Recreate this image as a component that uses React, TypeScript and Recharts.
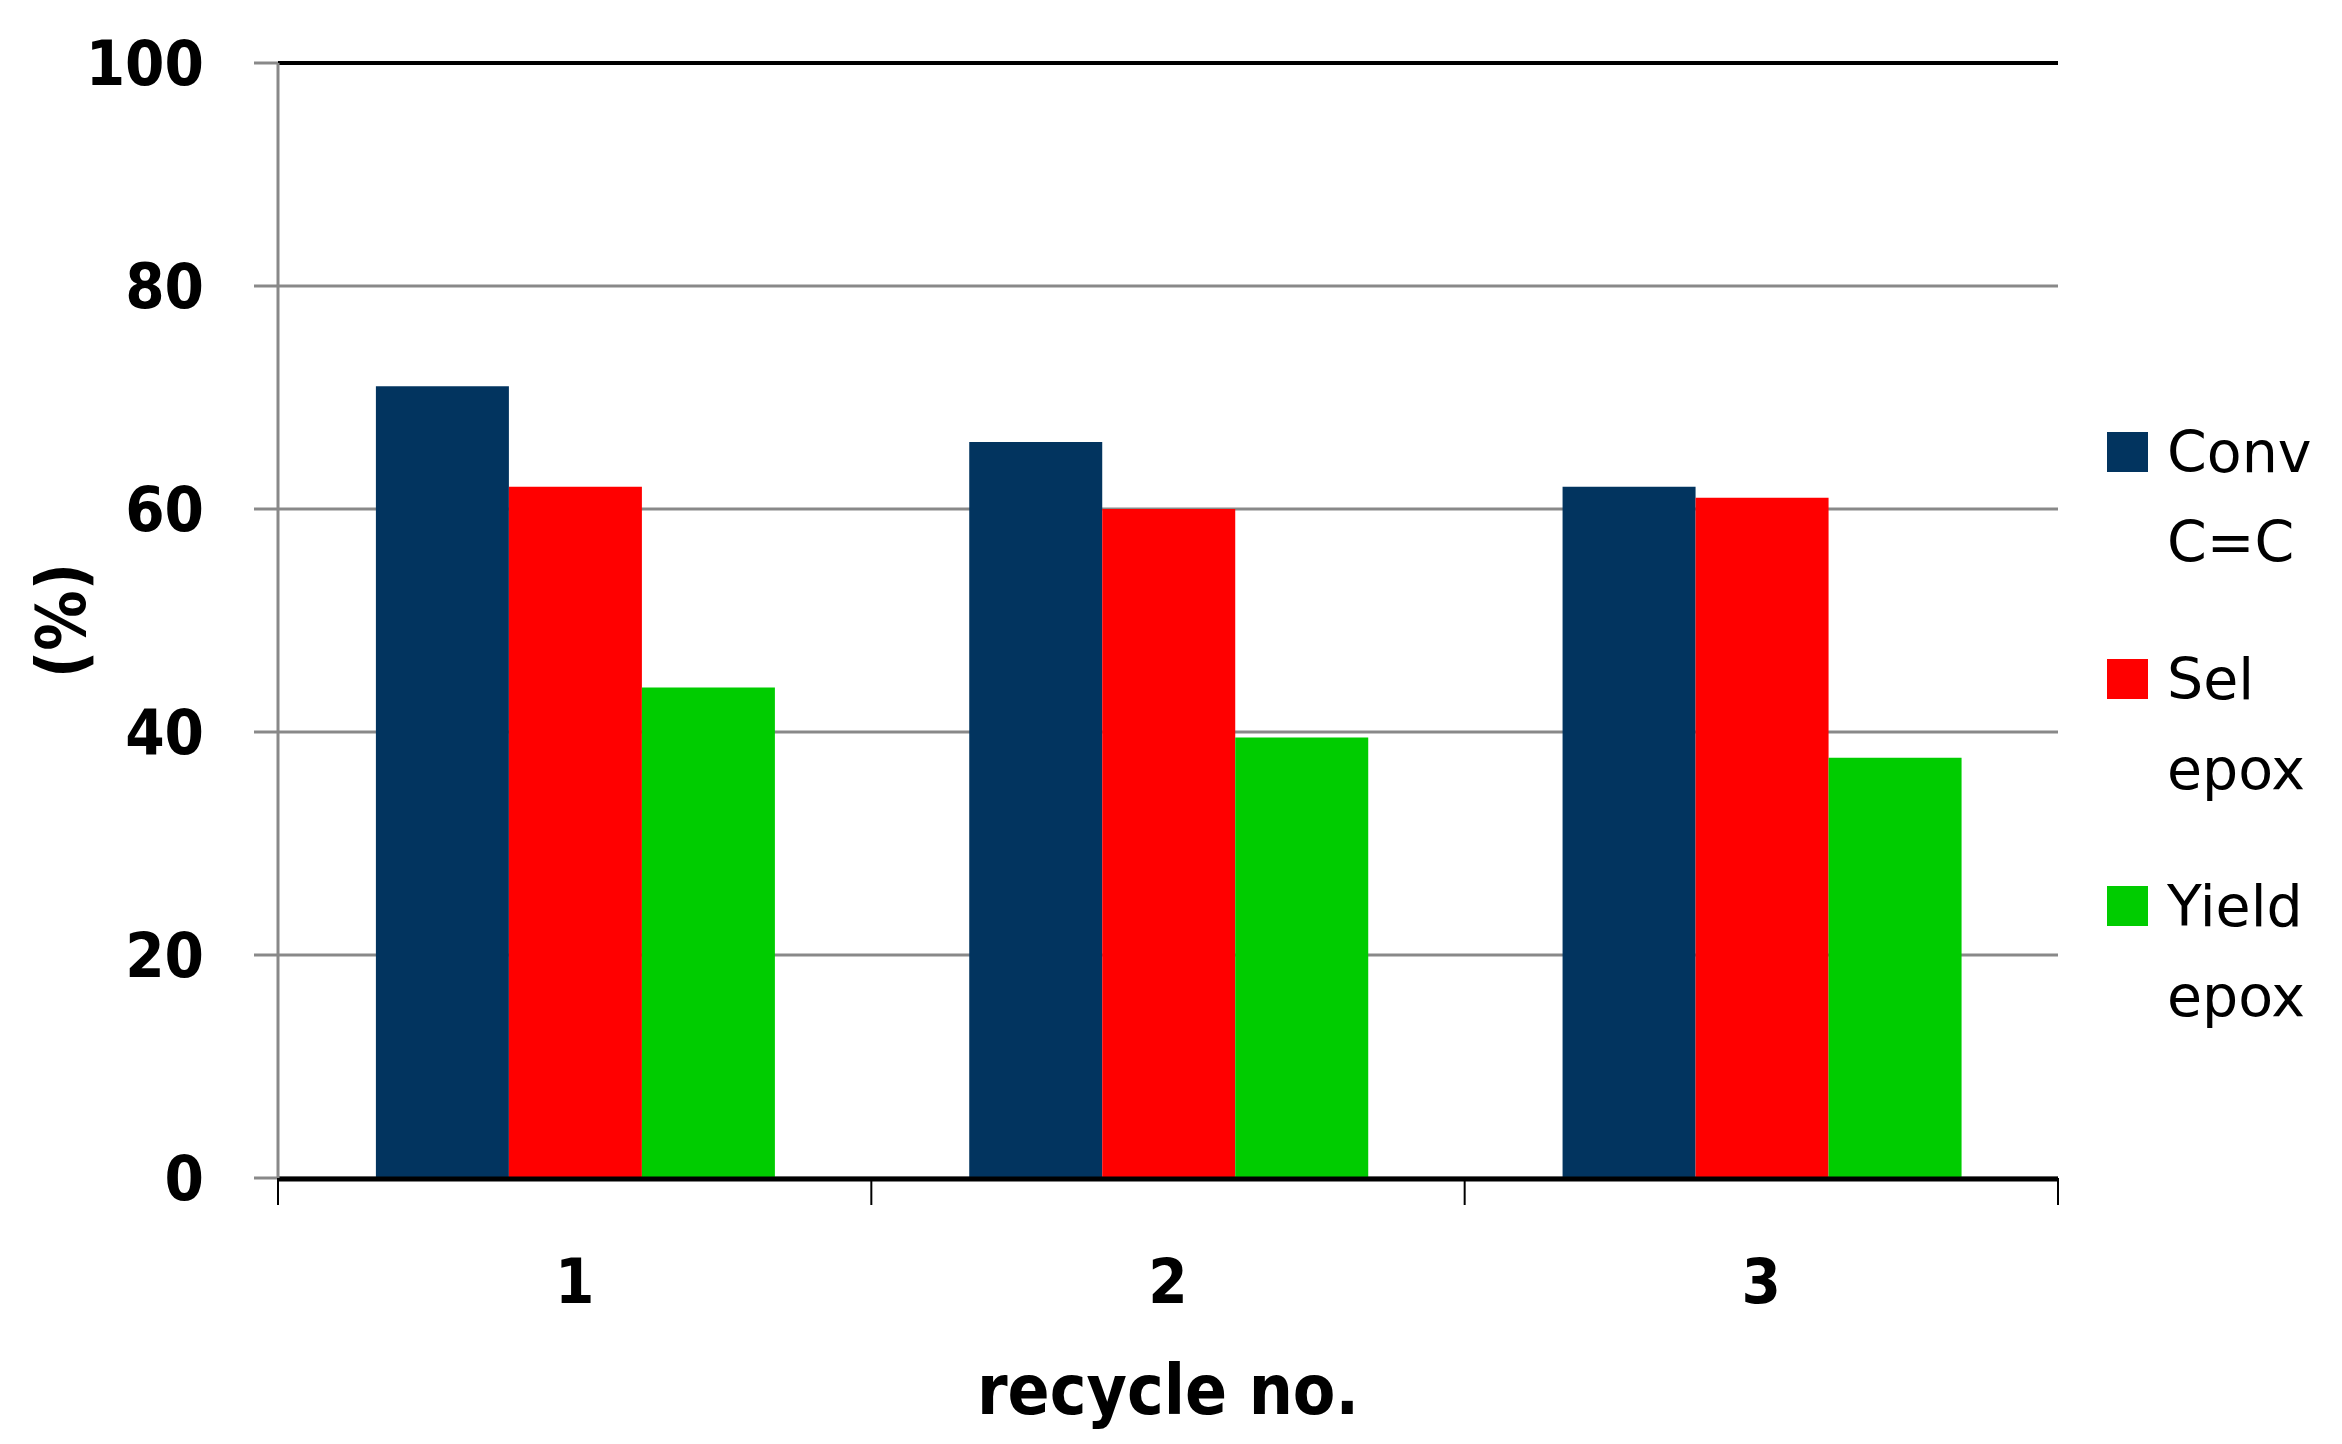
import { BarChart, Bar, XAxis, YAxis, CartesianGrid, Legend, ReferenceLine } from "recharts";

const cycles = ["1", "2", "3"];
const convCC = [71, 66, 62];
const selEpox = [62, 60, 61];
const yieldEpox = [44, 39.5, 37.7];
const yTicks = [0, 20, 40, 60, 80, 100];

const series = [
  { key: "conv", name: "Conv C=C", color: "#02345F" },
  { key: "sel", name: "Sel epox", color: "#FF0000" },
  { key: "yield", name: "Yield epox", color: "#00CC00" },
];

const data = cycles.map((c, i) => ({
  cycle: c,
  conv: convCC[i],
  sel: selEpox[i],
  yield: yieldEpox[i],
}));

const font = "'DejaVu Sans Condensed', 'Liberation Sans Narrow', 'DejaVu Sans', sans-serif";
const grey = "#898989";

// tick marks sit on the category boundaries, not the centres
const EdgeTick = (props: any) => {
  const { x, y, payload, index, width, visibleTicksCount } = props;
  let half = payload && typeof payload.offset === "number" ? payload.offset : NaN;
  if (!(half > 0) && width && visibleTicksCount) half = width / visibleTicksCount / 2;
  if (!(half > 0)) return null;
  const xs = [x - half];
  if (index === cycles.length - 1) xs.push(x + half);
  return (
    <g>
      {xs.map((v) => (
        <line key={v} x1={v} x2={v} y1={y} y2={y + 27} stroke="#000" strokeWidth={2} />
      ))}
    </g>
  );
};

const YLabel = ({ viewBox }: any) => {
  const cx = viewBox.x + 62;
  const cy = viewBox.y + viewBox.height / 2;
  return (
    <text
      x={cx}
      y={cy}
      transform={`rotate(-90 ${cx} ${cy})`}
      textAnchor="middle"
      dominantBaseline="central"
      fontFamily={font}
      fontWeight="bold"
      fontSize={67}
      fill="#000"
    >
      (%)
    </text>
  );
};

const renderLegend = (props: any) => (
  <div style={{ fontFamily: "'DejaVu Sans', sans-serif", fontSize: 57, color: "#000" }}>
    {(props.payload || []).map((p: any) => (
      <div key={p.value} style={{ display: "flex", marginBottom: 47 }}>
        <div style={{ width: 41, height: 40, background: p.color, marginTop: 25, marginRight: 19, flexShrink: 0 }} />
        <div style={{ lineHeight: "90px" }}>
          {String(p.value).split(" ").map((w) => (
            <div key={w}>{w}</div>
          ))}
        </div>
      </div>
    ))}
  </div>
);

export default function App() {
  return (
    <div style={{ position: "absolute", left: 0, top: 0, background: "#fff" }}>
      <BarChart
        width={2342}
        height={1444}
        data={data}
        margin={{ top: 63, right: 49, bottom: 0, left: 0 }}
        barCategoryGap="16.5%"
        barGap={0}
      >
        <CartesianGrid xAxisId="b" vertical={false} stroke={grey} strokeWidth={3} />
        <XAxis
          xAxisId="a"
          dataKey="cycle"
          height={1}
          interval={0}
          tickSize={0}
          tickMargin={0}
          tickLine={false}
          axisLine={false}
          tick={<EdgeTick />}
        />
        <XAxis
          xAxisId="b"
          dataKey="cycle"
          height={265}
          tickLine={false}
          tickSize={0}
          tickMargin={79}
          axisLine={{ stroke: "#000", strokeWidth: 5 }}
          tick={{ fontFamily: font, fontWeight: "bold", fontSize: 63, fill: "#000" }}
          label={{
            value: "recycle no.",
            position: "insideBottom",
            offset: 30,
            style: { fontFamily: font, fontWeight: "bold", fontSize: 69, fill: "#000" },
          }}
        />
        <YAxis
          width={278}
          domain={[0, 100]}
          ticks={yTicks}
          tickSize={24}
          tickMargin={50}
          axisLine={{ stroke: grey, strokeWidth: 3 }}
          tickLine={{ stroke: grey, strokeWidth: 3 }}
          tick={{ fontFamily: font, fontWeight: "bold", fontSize: 63, fill: "#000" }}
          label={<YLabel />}
        />
        <YAxis
          yAxisId="r"
          orientation="right"
          width={0}
          domain={[0, 100]}
          tick={false}
          tickLine={false}
          axisLine={{ stroke: "#000", strokeWidth: 4 }}
        />
        <ReferenceLine xAxisId="b" y={100} stroke="#000" strokeWidth={4} />
        {series.map((s) => (
          <Bar
            key={s.key}
            xAxisId="b"
            dataKey={s.key}
            name={s.name}
            fill={s.color}
            isAnimationActive={false}
          />
        ))}
        <Legend
          layout="vertical"
          align="right"
          verticalAlign="top"
          content={renderLegend}
          wrapperStyle={{ top: 407, right: 0, left: "auto", width: 235 }}
        />
      </BarChart>
    </div>
  );
}
